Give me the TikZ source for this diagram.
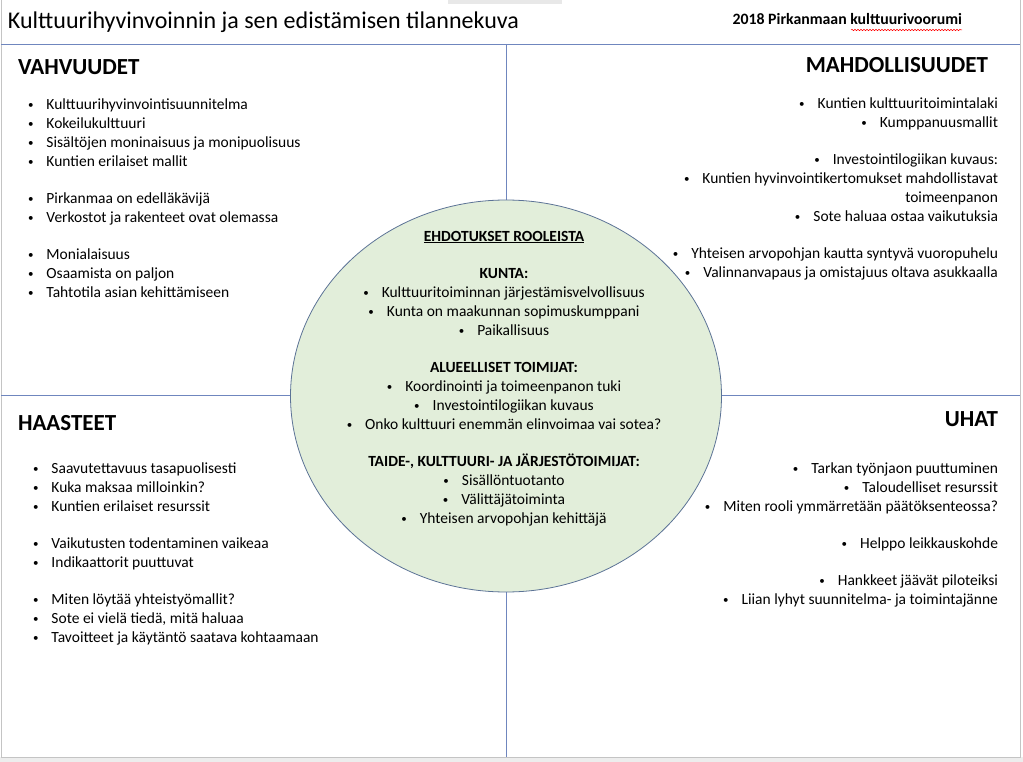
\documentclass[tikz,border=0pt]{standalone}
\usepackage{fontspec}
\setmainfont{Carlito}
\usepackage{tikz}
\usetikzlibrary{positioning,shapes.geometric,decorations.pathmorphing}
\definecolor{gridblue}{HTML}{6F86BE}
\definecolor{ringblue}{HTML}{5C7396}
\definecolor{sage}{HTML}{E2EEDA}
\definecolor{frame}{HTML}{C4C4C4}
\newcommand{\bl}{\raisebox{0.8pt}{\fontsize{11}{11}\selectfont\textbullet}\hspace{13pt}}

\begin{document}
\begin{tikzpicture}[
  x=1pt,y=-1pt,
  every node/.style={inner sep=0pt,outer sep=0pt},
  body/.style={font=\fontsize{15.5}{19}\selectfont},
  head/.style={font=\fontsize{23}{26}\selectfont\bfseries},
  lst/.style={body,align=left,anchor=north west},
  rlst/.style={body,align=right,anchor=north east},
  grid/.style={gridblue,line width=0.8pt}
]
\useasboundingbox (0,0) rectangle (1023,762);
\fill[black!7] (0,757) rectangle (1023,762);
\fill[black!9] (448,0) rectangle (562,4);
\draw[frame] (1,0) -- (1,757) -- (1020,757) -- (1020,0);

% title row
\node[anchor=base west,font=\fontsize{24}{28}\selectfont] (title) at (8,29) {Kulttuurihyvinvoinnin ja sen edistämisen tilannekuva};
\node[anchor=base east,font=\fontsize{15.8}{18}\selectfont\bfseries] (forum) at (962,25) {2018 Pirkanmaan kulttuurivoorumi};
\draw[red,line width=0.5pt,decorate,decoration={snake,amplitude=0.7pt,segment length=3pt}] (851,30) -- (962,30);

% quadrant lines
\draw[grid] (1,44) -- (1020,44);
\draw[grid] (1,395) -- (1020,395);
\draw[grid] (506,44) -- (506,757);
\node[ellipse,draw=ringblue,fill=sage,line width=0.8pt,minimum width=431pt,minimum height=392pt] (roles) at (506,396) {};

% headings
\node[head,anchor=base west] (vah) at (18,75) {VAHVUUDET};
\node[head,anchor=base east] (mah) at (988,73) {MAHDOLLISUUDET};
\node[head,anchor=base west] (haa) at (18,430) {HAASTEET};
\node[head,anchor=base east] (uha) at (998,426) {UHAT};

% lists
\node[lst] (vahlist) at (28,98.5) {%
\bl Kulttuurihyvinvointisuunnitelma\\
\bl Kokeilukulttuuri\\
\bl Sisältöjen moninaisuus ja monipuolisuus\\
\bl Kuntien erilaiset mallit\\[18pt]
\bl Pirkanmaa on edelläkävijä\\
\bl Verkostot ja rakenteet ovat olemassa\\[18pt]
\bl Monialaisuus\\
\bl Osaamista on paljon\\
\bl Tahtotila asian kehittämiseen};

\node[rlst] (mahlist) at (998,97.5) {%
\bl Kuntien kulttuuritoimintalaki\\
\bl Kumppanuusmallit\\[18pt]
\bl Investointilogiikan kuvaus:\\
\bl Kuntien hyvinvointikertomukset mahdollistavat\\
toimeenpanon\\
\bl Sote haluaa ostaa vaikutuksia\\[18pt]
\bl Yhteisen arvopohjan kautta syntyvä vuoropuhelu\\
\bl Valinnanvapaus ja omistajuus oltava asukkaalla};

\node[lst] (haalist) at (33,462.5) {%
\bl Saavutettavuus tasapuolisesti\\
\bl Kuka maksaa milloinkin?\\
\bl Kuntien erilaiset resurssit\\[18pt]
\bl Vaikutusten todentaminen vaikeaa\\
\bl Indikaattorit puuttuvat\\[18pt]
\bl Miten löytää yhteistyömallit?\\
\bl Sote ei vielä tiedä, mitä haluaa\\
\bl Tavoitteet ja käytäntö saatava kohtaamaan};

\node[rlst] (uhalist) at (998,462.5) {%
\bl Tarkan työnjaon puuttuminen\\
\bl Taloudelliset resurssit\\
\bl Miten rooli ymmärretään päätöksenteossa?\\[18pt]
\bl Helppo leikkauskohde\\[18pt]
\bl Hankkeet jäävät piloteiksi\\
\bl Liian lyhyt suunnitelma- ja toimintajänne};

% roles inside the ellipse
\node[body,align=center,anchor=north] (rolelist) at (504,231) {%
\textbf{\underline{EHDOTUKSET ROOLEISTA}}\\[18pt]
\textbf{KUNTA:}\\
\bl Kulttuuritoiminnan järjestämisvelvollisuus\\
\bl Kunta on maakunnan sopimuskumppani\\
\bl Paikallisuus\\[18pt]
\textbf{ALUEELLISET TOIMIJAT:}\\
\bl Koordinointi ja toimeenpanon tuki\\
\bl Investointilogiikan kuvaus\\
\bl Onko kulttuuri enemmän elinvoimaa vai sotea?\\[18pt]
\textbf{TAIDE-, KULTTUURI- JA JÄRJESTÖTOIMIJAT:}\\
\bl Sisällöntuotanto\\
\bl Välittäjätoiminta\\
\bl Yhteisen arvopohjan kehittäjä};
\end{tikzpicture}
\end{document}
